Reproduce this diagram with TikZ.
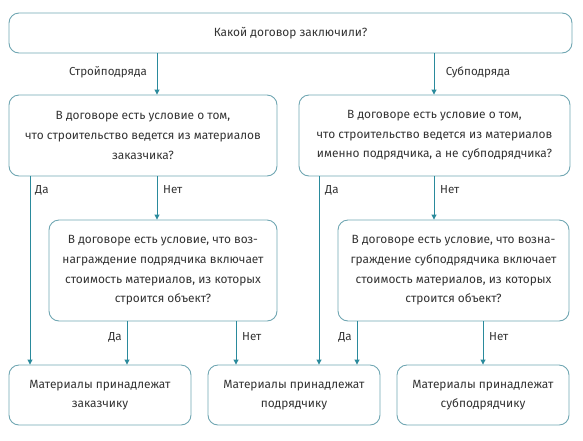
\documentclass[tikz,border=0pt]{standalone}
\usepackage{fontspec}
\setmainfont{Fira Sans}
\usetikzlibrary{arrows.meta}
\definecolor{boxc}{HTML}{6FA6B2}
\definecolor{arrc}{HTML}{2A8A9C}
\definecolor{txtc}{HTML}{333333}
\begin{document}
\begin{tikzpicture}[x=1pt,y=-1pt,
  box/.style={draw=boxc, line width=0.9pt, rounded corners=10pt, align=center, text=txtc,
    font=\fontsize{11.9}{19.6}\selectfont, inner sep=0pt},
  arr/.style={draw=arrc, line width=0.9pt, -{Triangle[width=5pt,length=5pt]}},
  lab/.style={text=txtc, font=\fontsize{11.6}{13}\selectfont, inner sep=0pt}]
\useasboundingbox (0,0) rectangle (583,440);
\node[box, minimum width=563pt, minimum height=40pt] (top) at (290.5,33) {Какой договор заключили?};
\node[box, minimum width=268pt, minimum height=81pt] (q1) at (143,135.5) {В договоре есть условие о том,\\что строительство ведется из материалов\\заказчика?};
\node[box, minimum width=271pt, minimum height=81pt] (q2) at (434.5,135.5) {В договоре есть условие о том,\\что строительство ведется из материалов\\именно подрядчика, а не субподрядчика?};
\node[box, minimum width=228pt, minimum height=101pt] (q3) at (163,270.5) {В договоре есть условие, что воз-\\награждение подрядчика включает\\стоимость материалов, из которых\\строится объект?};
\node[box, minimum width=231pt, minimum height=101pt] (q4) at (453.5,270.5) {В договоре есть условие, что возна-\\граждение субподрядчика включает\\стоимость материалов, из которых\\строится объект?};
\node[box, minimum width=182pt, minimum height=60pt] (r1) at (100,395) {Материалы принадлежат\\заказчику};
\node[box, minimum width=172pt, minimum height=60pt] (r2) at (294,395) {Материалы принадлежат\\подрядчику};
\node[box, minimum width=172pt, minimum height=60pt] (r3) at (483,395) {Материалы принадлежат\\субподрядчику};
% arrows
\draw[arr] (top.south -| 157,0) -- (q1.north -| 157,0);
\draw[arr] (top.south -| 434,0) -- (q2.north -| 434,0);
\draw[arr] (q1.south -| 30,0) -- (r1.north -| 30,0);
\draw[arr] (q1.south -| 157,0) -- (q3.north -| 157,0);
\draw[arr] (q2.south -| 319,0) -- (r2.north -| 319,0);
\draw[arr] (q2.south -| 434,0) -- (q4.north -| 434,0);
\draw[arr] (q3.south -| 127,0) -- (r1.north -| 127,0);
\draw[arr] (q3.south -| 236,0) -- (r2.north -| 236,0);
\draw[arr] (q4.south -| 357,0) -- (r2.north -| 357,0);
\draw[arr] (q4.south -| 483,0) -- (r3.north -| 483,0);
% labels
\node[lab] (l1) at (108,72) {Стройподряда};
\node[lab] (l2) at (478,72) {Субподряда};
\node[lab, anchor=west] (l3) at (35,190) {Да};
\node[lab, anchor=west] (l4) at (163,190) {Нет};
\node[lab, anchor=west] (l5) at (325,190) {Да};
\node[lab, anchor=west] (l6) at (440,190) {Нет};
\node[lab, anchor=east] (l7) at (122,337) {Да};
\node[lab, anchor=west] (l8) at (242,337) {Нет};
\node[lab, anchor=east] (l9) at (352,337) {Да};
\node[lab, anchor=west] (l10) at (489,337) {Нет};
\end{tikzpicture}
\end{document}
